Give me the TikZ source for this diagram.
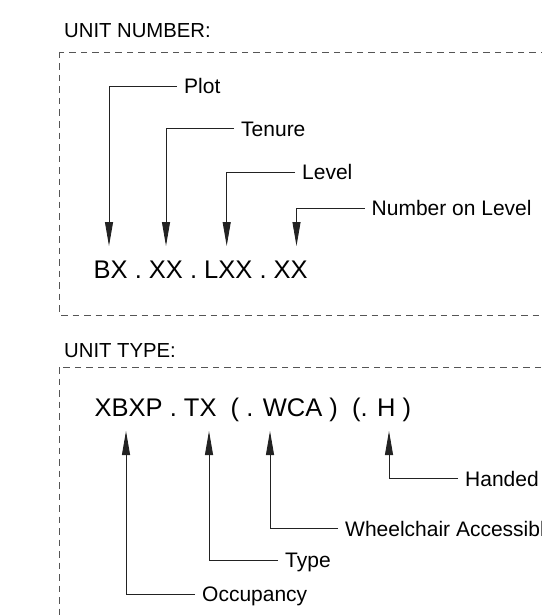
\documentclass[tikz,border=0pt]{standalone}
\usepackage{fontspec}
\setmainfont{Liberation Sans}
\usepackage{tikz}
\usetikzlibrary{positioning, arrows.meta}
\definecolor{leadgrey}{HTML}{222222}
\definecolor{framegrey}{HTML}{555555}

\begin{document}
\begin{tikzpicture}[x=1pt, y=-1pt, >={Triangle[length=24pt, width=8pt]},
        lbl/.style={anchor=west, inner xsep=7pt, inner ysep=0pt, text height=15.5pt, text depth=0pt, font=\fontsize{21}{25}\selectfont},
        head/.style={anchor=base west, inner sep=0pt, font=\fontsize{20.3}{24}\selectfont},
        code/.style={anchor=base west, inner sep=0pt, font=\fontsize{25.5}{30}\selectfont},
        frame/.style={draw=framegrey, line width=0.8pt, dash pattern=on 6.5pt off 5pt},
        lead/.style={draw=leadgrey, line width=0.9pt}]
        \useasboundingbox (0,0) rectangle (541,615);
        % unit number
        \node [head] (numhead) at (64,37.5) {UNIT NUMBER:};
        \draw [frame] (59.5,52) rectangle (575,315);
        \node [code] (numcode) at (93.5,278) {BX . XX . LXX . XX};
        \coordinate (plottip) at (109,246);
        \coordinate (tenuretip) at (166,246);
        \coordinate (leveltip) at (226.7,246);
        \coordinate (numbertip) at (296.5,246);
        \node [lbl] (plot) at (177,86) {Plot};
        \node [lbl] (tenure) at (234,128.5) {Tenure};
        \node [lbl] (level) at (295,172) {Level};
        \node [lbl] (number) at (364.5,208) {Number on Level};
        \draw [lead, ->] (plot.west) -| (plottip);
        \draw [lead, ->] (tenure.west) -| (tenuretip);
        \draw [lead, ->] (level.west) -| (leveltip);
        \draw [lead, ->] (number.west) -| (numbertip);
        % unit type
        \node [head] (typehead) at (64,357.7) {UNIT TYPE:};
        \draw [frame] (59.5,367) rectangle (575,650);
        \node [code] (typecode) at (94.5,416.7) {XBXP . TX\ \ ( . WCA )\ \ (. H )};
        \coordinate (occtip) at (126,431);
        \coordinate (typetip) at (209,431);
        \coordinate (wcatip) at (270,431);
        \coordinate (handtip) at (389,431);
        \node [lbl] (occ) at (195,594) {Occupancy};
        \node [lbl] (type) at (278,560) {Type};
        \node [lbl] (wca) at (338,528.5) {Wheelchair Accessible};
        \node [lbl] (hand) at (458,478.5) {Handed};
        \draw [lead, ->] (occ.west) -| (occtip);
        \draw [lead, ->] (type.west) -| (typetip);
        \draw [lead, ->] (wca.west) -| (wcatip);
        \draw [lead, ->] (hand.west) -| (handtip);
    \end{tikzpicture}
\end{document}
